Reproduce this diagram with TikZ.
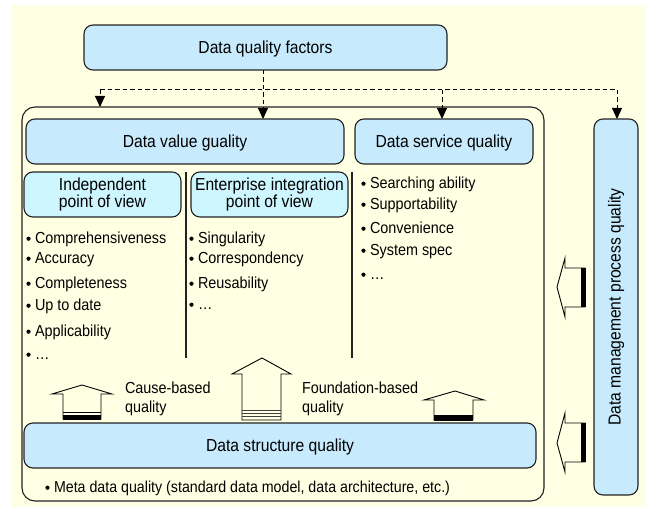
\documentclass[tikz,border=0pt]{standalone}
\usepackage{fontspec}
\setmainfont{Liberation Sans}
\newfontfamily\narrowsans{Liberation Sans}[FakeStretch=0.9]
\usetikzlibrary{arrows.meta}
\definecolor{paper}{RGB}{255,255,228}
\definecolor{boxblue}{RGB}{199,235,253}
\definecolor{boxcyan}{RGB}{206,246,255}
\definecolor{edge}{RGB}{35,35,35}
\newcommand\headfont{\narrowsans\fontsize{17.4}{17.5}\selectfont}
\newcommand\itemfont{\narrowsans\fontsize{16}{19.5}\selectfont}

\begin{document}
\begin{tikzpicture}[x=1pt,y=-1pt,
  every node/.style={inner sep=0pt, outer sep=0pt},
  frame/.style={draw=edge, line width=1.1pt, rounded corners=13pt, fill=paper},
  panel/.style={draw=edge, line width=1.1pt, rounded corners=9pt, fill=boxblue,
    font=\headfont, text height=12.4pt, text depth=0pt},
  subpanel/.style={draw=edge, line width=1.1pt, rounded corners=9pt, fill=boxcyan,
    font=\headfont, align=center},
  tallpanel/.style={draw=edge, line width=1.1pt, rounded corners=9pt, fill=boxblue,
    font=\headfont},
  listitem/.style={anchor=base west, font=\itemfont},
  caption/.style={anchor=west, align=left, font=\itemfont},
  dline/.style={draw=black, line width=1pt, dash pattern=on 4.5pt off 3pt},
  tip/.style={-{Triangle[length=11pt,width=10pt]}},
  blk/.style={draw=black, line width=0.9pt, fill=paper, line join=miter},
  divider/.style={draw=edge, line width=1.2pt}
]
\useasboundingbox (0,0) rectangle (645,510);
\fill[paper] (12,5) rectangle (645,507);

% outer frame holding value, service and structure quality
\node[frame, minimum width=522pt, minimum height=394pt] (cont) at (283,304) {};

% boxes
\node[panel, minimum width=363pt, minimum height=45pt] (top) at (265.5,47.5) {Data quality factors};
\node[panel, minimum width=318pt, minimum height=45pt] (value) at (185,141.5) {Data value guality};
\node[panel, minimum width=178pt, minimum height=45pt] (svc) at (444,141.5) {Data service quality};
\node[subpanel, minimum width=157pt, minimum height=45pt] (indep) at (102.5,194.5) {Independent\\point of view};
\node[subpanel, minimum width=157pt, minimum height=45pt] (ent) at (269.5,194.5) {Enterprise integration\\point of view};
\node[panel, minimum width=512pt, minimum height=45pt] (struct) at (280,445.5) {Data structure quality};
\node[tallpanel, minimum width=44pt, minimum height=376pt] (mgmt) at (616,307) {\rotatebox{90}{Data management process quality}};

% column dividers
\draw[divider] (186,172) -- (186,358);
\draw[divider] (352,172) -- (352,358);

% dashed distribution from the top box
\coordinate (hub) at (263,90);
\coordinate (bl) at (100,90);
\coordinate (bs) at (442,90);
\coordinate (br) at (617,90);
\draw[dline] (bl) -- (br);
\draw[dline, tip] (top.south -| hub) -- (value.north -| hub);
\draw[dline, tip] (bl) -- (bl |- cont.north);
\draw[dline, tip] (bs) -- (bs |- svc.north);
\draw[dline, tip] (br) -- (br |- mgmt.north);

% upward block arrows
\draw[blk] (63,419) -- (63,394) -- (52,394) -- (82,385) -- (112,394) -- (101,394) -- (101,419) -- cycle;
\draw[line width=0.8pt] (63,412.5) -- (101,412.5);
\fill[black] (63,415) rectangle (101,419.5);

\draw[blk] (242,420) -- (242,374) -- (232,374) -- (262,358) -- (291,374) -- (281,374) -- (281,420) -- cycle;
\foreach \yy in {410.5,413.6,416.8}
  \draw[line width=0.8pt, draw=black!75] (242,\yy) -- (281,\yy);

\draw[blk] (434,420) -- (434,400) -- (424,400) -- (455,391) -- (484,400) -- (473,400) -- (473,420) -- cycle;
\fill[black] (434,415) rectangle (473,420.5);

% leftward block arrows
\draw[blk] (585,268) -- (565,268) -- (565,258) -- (557,287) -- (565,317) -- (565,307) -- (585,307) -- cycle;
\fill[black] (580.5,268) rectangle (585.5,307);
\draw[blk] (585,423) -- (565,423) -- (565,413) -- (557,443) -- (565,472) -- (565,462) -- (585,462) -- cycle;
\fill[black] (580.5,423) rectangle (585.5,462);

% item lists
\node[listitem] (a1) at (35,243.5) {Comprehensiveness};
\node[listitem] (a2) at (35,263.5) {Accuracy};
\node[listitem] (a3) at (35,288.5) {Completeness};
\node[listitem] (a4) at (35,310.5) {Up to date};
\node[listitem] (a5) at (35,336.5) {Applicability};
\node[listitem] (a6) at (35,359.5) {…};

\node[listitem] (b1) at (198,243.5) {Singularity};
\node[listitem] (b2) at (198,263.5) {Correspondency};
\node[listitem] (b3) at (198,288.5) {Reusability};
\node[listitem] (b4) at (198,309.5) {…};

\node[listitem] (c1) at (370,188.5) {Searching ability};
\node[listitem] (c2) at (370,209.5) {Supportability};
\node[listitem] (c3) at (370,233.5) {Convenience};
\node[listitem] (c4) at (370,255.5) {System spec};
\node[listitem] (c5) at (370,279.5) {…};

\node[listitem, font=\narrowsans\fontsize{15.8}{17}\selectfont] (m1) at (54,492.5) {Meta data quality (standard data model, data architecture, etc.)};

\foreach \n in {a1,a2,a3,a4,a5,a6,b1,b2,b3,b4,c1,c2,c3,c4,c5,m1}
  \fill (\n.base west) ++(-6.5,-4.8) circle (2.1pt);

% arrow captions
\node[caption] (cause) at (125,399) {Cause-based\\quality};
\node[caption] (found) at (302,399) {Foundation-based\\quality};
\end{tikzpicture}
\end{document}
